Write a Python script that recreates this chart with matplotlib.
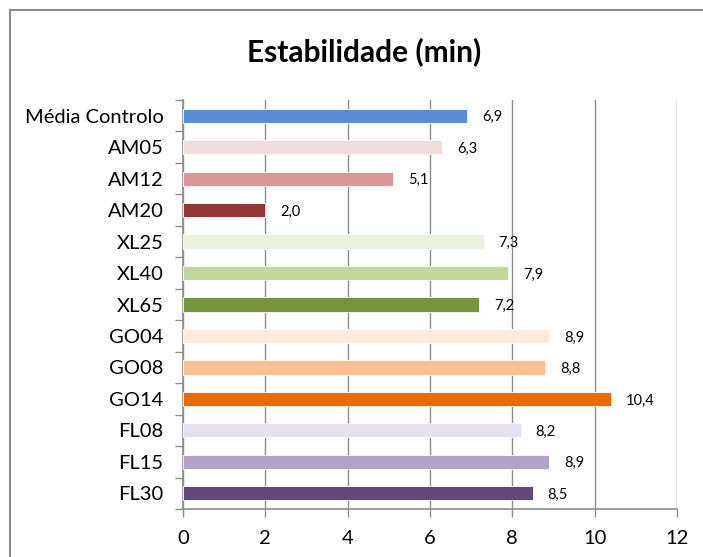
import matplotlib
matplotlib.use("Agg")
import matplotlib.pyplot as plt
from matplotlib.lines import Line2D
from matplotlib.ticker import FixedLocator

plt.rcParams['font.family'] = ['Lato', 'DejaVu Sans']

categories = ["Média Controlo", "AM05", "AM12", "AM20", "XL25", "XL40", "XL65",
              "GO04", "GO08", "GO14", "FL08", "FL15", "FL30"]
values = [6.9, 6.3, 5.1, 2.0, 7.3, 7.9, 7.2, 8.9, 8.8, 10.4, 8.2, 8.9, 8.5]
colors = ["#558ED5", "#F2DCDB", "#D99694", "#953735", "#EBF1DE", "#C3D69B", "#77933C",
          "#FDEADA", "#FAC090", "#E46C0A", "#E6E0EC", "#B3A2C7", "#604A7B"]
xticks = [0, 2, 4, 6, 8, 10, 12]
title = "Estabilidade (min)"

grid_col = "#8C8C8C"

fig = plt.figure(figsize=(7.03, 5.57), dpi=100)
ax = fig.add_axes([183 / 703, 1 - 509 / 557, (677 - 183) / 703, (509 - 100) / 557])

pos = list(range(len(categories)))
ax.barh(pos, values, height=0.45, color=colors, edgecolor="white", linewidth=0.6, zorder=3)

for y, v in zip(pos, values):
    ax.text(v + 0.36, y + 0.05, f"{v:.1f}".replace(".", ","), va="center", ha="left",
            fontsize=10.5, color="#000000", zorder=4)

ax.set_xlim(0, 12)
ax.set_ylim(len(categories) - 0.5, -0.5)
ax.set_xticks(xticks)
ax.set_xticklabels([str(t) for t in xticks], fontsize=14.5)
ax.set_yticks(pos)
ax.set_yticklabels(categories, fontsize=14.5)
ax.yaxis.set_minor_locator(FixedLocator([p - 0.5 for p in pos] + [len(pos) - 0.5]))
ax.tick_params(axis="y", which="major", length=0, pad=14)
ax.tick_params(axis="y", which="minor", length=6, width=1, color=grid_col, direction="out")
ax.tick_params(axis="x", which="major", length=6, width=1, color=grid_col, direction="out", pad=9)

ax.grid(axis="x", color=grid_col, linewidth=1, zorder=0)
ax.set_axisbelow(True)
for s in ["top", "right"]:
    ax.spines[s].set_visible(False)
for s in ["left", "bottom"]:
    ax.spines[s].set_color(grid_col)
    ax.spines[s].set_linewidth(1.2)

fig.text(364 / 703, 1 - 52 / 557, title, ha="center", va="center",
         fontsize=21.5, fontweight="bold")

# chart area border (left and top edges)
fig.add_artist(Line2D([10 / 703, 10 / 703], [0, 1 - 10 / 557], transform=fig.transFigure,
                      color="#8C8C8C", linewidth=1.5))
fig.add_artist(Line2D([10 / 703, 1], [1 - 10 / 557, 1 - 10 / 557], transform=fig.transFigure,
                      color="#8C8C8C", linewidth=1.5))

fig.savefig("out.png", dpi=100)
